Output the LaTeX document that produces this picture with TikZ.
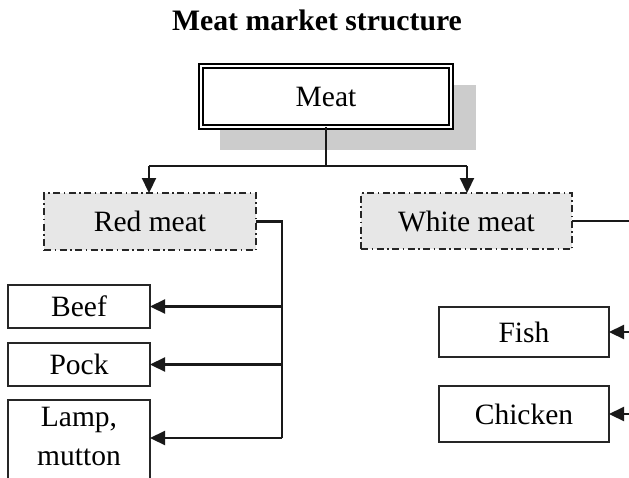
\documentclass[tikz,border=0pt]{standalone}
\usepackage{fontspec}
\setmainfont{Liberation Serif}
\usetikzlibrary{arrows.meta}
\definecolor{shadowgray}{RGB}{204,204,204}
\definecolor{boxgray}{RGB}{231,231,231}
\tikzset{
  txt/.style={font=\fontsize{29.5}{39}\selectfont},
  rootbox/.style={txt, draw=black, line width=1.6pt, double=white, double distance=2pt, fill=white, inner sep=0pt, outer sep=0pt},
  groupbox/.style={txt, draw=black!85, line width=2pt, fill=boxgray, dash pattern=on 7pt off 3.5pt on 1.5pt off 3.5pt, inner sep=0pt, outer sep=0pt},
  leafbox/.style={txt, draw=black!85, line width=2pt, fill=white, inner sep=0pt, outer sep=0pt},
  conn/.style={line width=2.2pt, draw=black!90},
  arr/.style={conn, -{Triangle[length=15pt,width=14pt]}}
}
\begin{document}
\begin{tikzpicture}[x=1pt,y=-1pt]
\useasboundingbox (0,0) rectangle (629,477);
\clip (0,0) rectangle (629,477);
% title
\node[anchor=base, font=\fontsize{29.7}{34}\selectfont\bfseries] (title) at (317,30) {Meat market structure};
% shadow and root
\fill[shadowgray] (220,85) rectangle (476,150);
\node[rootbox, minimum width=250pt, minimum height=61pt] (meat) at (326,96.5) {Meat};
% groups
\node[groupbox, minimum width=212pt, minimum height=57pt] (red) at (150,221.5) {Red meat};
\node[groupbox, minimum width=211pt, minimum height=56pt] (white) at (466.5,221) {White meat};
% red leaves
\node[leafbox, minimum width=142pt, minimum height=43pt] (beef) at (79,306.5) {Beef};
\node[leafbox, minimum width=142pt, minimum height=43pt] (pock) at (79,364.5) {Pock};
\node[leafbox, anchor=north, minimum width=142pt, minimum height=110pt] (lamp) at (79,400) {};
\node[txt, align=center, inner sep=0pt] (lamptext) at (79,436) {Lamp,\\mutton};
% white leaves
\node[leafbox, minimum width=170pt, minimum height=50pt] (fish) at (524,332) {Fish};
\node[leafbox, minimum width=170pt, minimum height=56pt] (chicken) at (524,414) {Chicken};
% connector coordinates
\coordinate (split) at (326,166);
\coordinate (redtop) at (149,166);
\coordinate (whitetop) at (467,166);
\coordinate (redbus) at (282,222);
\coordinate (busbot) at (282,438);
\coordinate (whiteout) at (640,222);
\coordinate (fishin) at (640,332);
\coordinate (chickin) at (640,414);
% connectors
\draw[conn] (meat.south) -- (split);
\draw[conn] (redtop) -- (whitetop);
\draw[arr] (redtop) -- (red.north -| redtop);
\draw[arr] (whitetop) -- (white.north -| whitetop);
\draw[conn] (red.east) -- (red.east -| redbus) -- (busbot);
\draw[arr] (redbus |- beef.east) -- (beef.east);
\draw[arr] (redbus |- pock.east) -- (pock.east);
\draw[arr] (busbot) -- (lamp.east |- busbot);
\draw[conn] (white.east) -- (white.east -| whiteout);
\draw[arr] (fishin) -- (fish.east);
\draw[arr] (chickin) -- (chicken.east);
\end{tikzpicture}
\end{document}
